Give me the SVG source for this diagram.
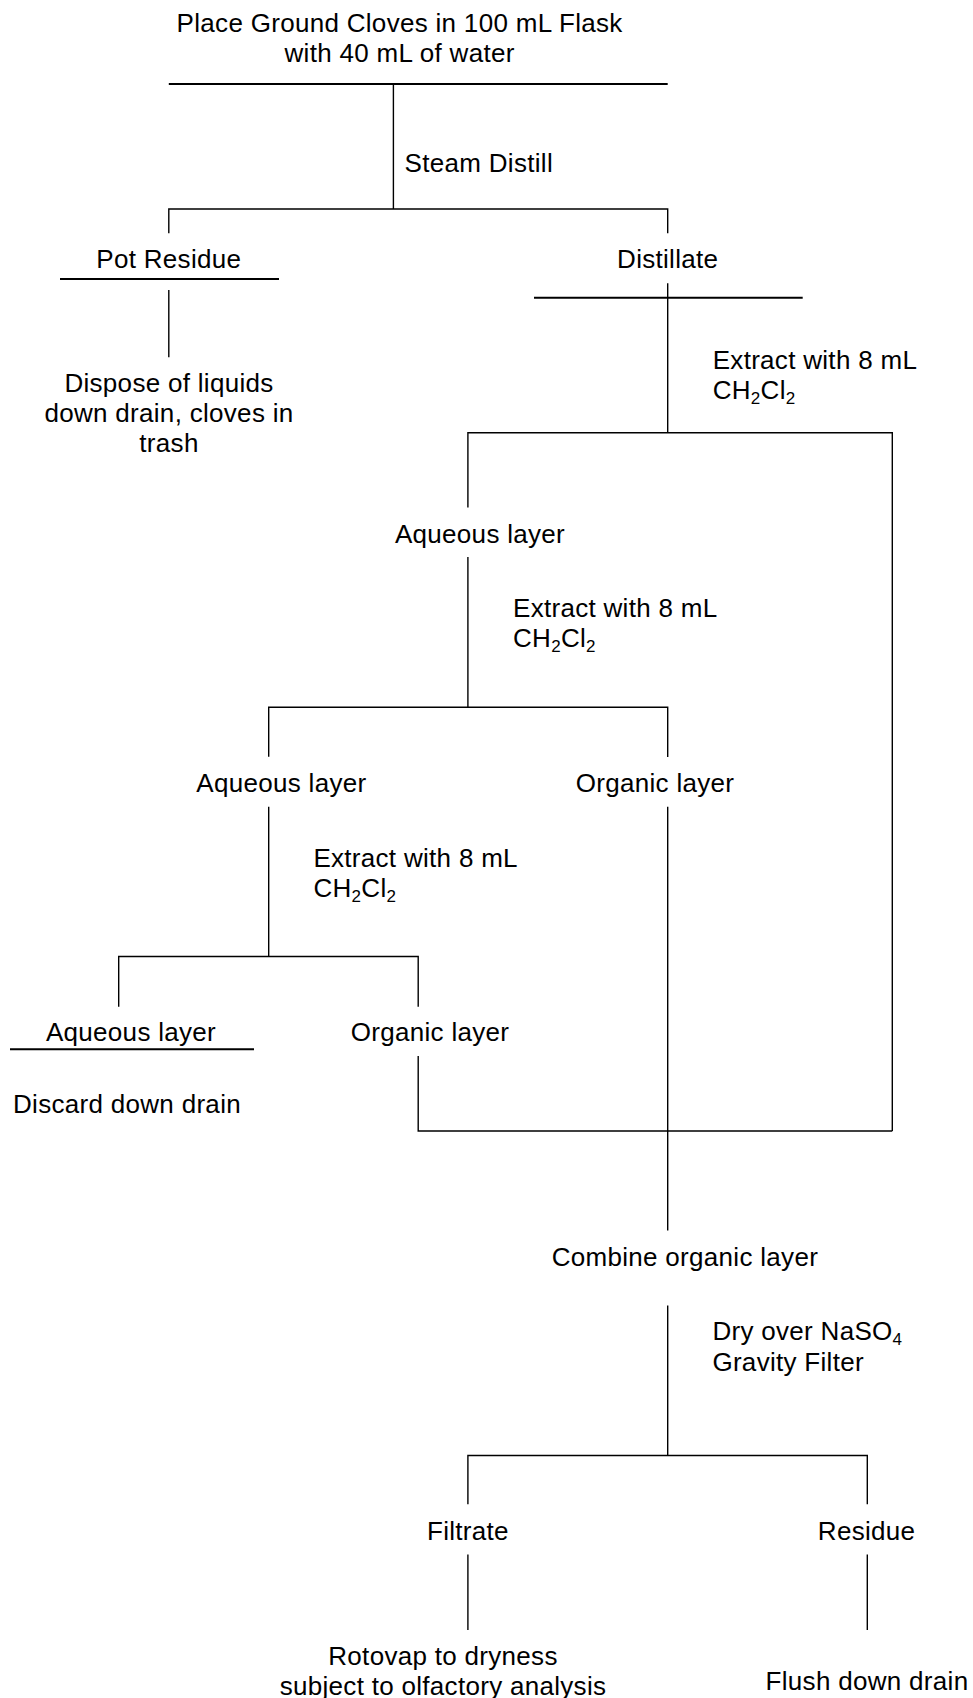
<svg xmlns="http://www.w3.org/2000/svg" width="973" height="1698" viewBox="0 0 973 1698">
<style>
.t{font-family:"Liberation Sans",Arial,sans-serif;font-size:26px;letter-spacing:0.3px;fill:#000}
.m{text-anchor:middle}
.ln{stroke:#000;stroke-width:1.4;fill:none}
.bar{stroke:#000;stroke-width:2;fill:none}
.sub{font-size:17px}
</style>
<rect width="973" height="1698" fill="#fff"/>
<g id="connectors">
<line class="ln" x1="393.4" y1="84" x2="393.4" y2="209"/>
<polyline class="ln" points="168.8,233.3 168.8,209 667.7,209 667.7,233.3"/>
<line class="ln" x1="168.8" y1="290" x2="168.8" y2="357.3"/>
<line class="ln" x1="667.7" y1="283.3" x2="667.7" y2="432.7"/>
<polyline class="ln" points="467.9,507.5 467.9,432.7 892.3,432.7 892.3,1131"/>
<line class="ln" x1="467.9" y1="557" x2="467.9" y2="707.3"/>
<polyline class="ln" points="268.7,756.7 268.7,707.3 667.7,707.3 667.7,757"/>
<line class="ln" x1="268.7" y1="806.7" x2="268.7" y2="956.5"/>
<polyline class="ln" points="118.7,1006.7 118.7,956.5 418.2,956.5 418.2,1006.7"/>
<polyline class="ln" points="418.2,1056 418.2,1131 892.3,1131"/>
<line class="ln" x1="667.7" y1="806.7" x2="667.7" y2="1230.4"/>
<line class="ln" x1="667.7" y1="1305.5" x2="667.7" y2="1455.5"/>
<polyline class="ln" points="467.9,1504.3 467.9,1455.5 867.3,1455.5 867.3,1504.3"/>
<line class="ln" x1="467.9" y1="1554.6" x2="467.9" y2="1630"/>
<line class="ln" x1="867.3" y1="1554.6" x2="867.3" y2="1630"/>
</g>
<g id="label-steam"><text class="t" x="404.6" y="172">Steam Distill</text></g>
<g id="label-extract1"><text class="t" x="712.7" y="368.5">Extract with 8 mL</text><text class="t" x="712.7" y="398.5">CH<tspan class="sub" dy="5">2</tspan><tspan dy="-5">Cl</tspan><tspan class="sub" dy="5">2</tspan></text></g>
<g id="label-extract2"><text class="t" x="513" y="617">Extract with 8 mL</text><text class="t" x="513" y="647">CH<tspan class="sub" dy="5">2</tspan><tspan dy="-5">Cl</tspan><tspan class="sub" dy="5">2</tspan></text></g>
<g id="label-extract3"><text class="t" x="313.4" y="866.7">Extract with 8 mL</text><text class="t" x="313.4" y="896.7">CH<tspan class="sub" dy="5">2</tspan><tspan dy="-5">Cl</tspan><tspan class="sub" dy="5">2</tspan></text></g>
<g id="label-dry"><text class="t" x="712.4" y="1340">Dry over NaSO<tspan class="sub" dy="5">4</tspan></text><text class="t" x="712.4" y="1370.5">Gravity Filter</text></g>
<g id="start"><text class="t m" x="399.6" y="31.7">Place Ground Cloves in 100 mL Flask</text><text class="t m" x="399.6" y="62.3">with 40 mL of water</text><line class="bar" x1="168.8" y1="84" x2="667.7" y2="84"/></g>
<g id="pot-residue"><text class="t m" x="168.8" y="268">Pot Residue</text><line class="bar" x1="60" y1="279" x2="279" y2="279"/></g>
<g id="distillate"><text class="t m" x="667.7" y="267.5">Distillate</text><line class="bar" x1="534" y1="297.7" x2="802.7" y2="297.7"/></g>
<g id="dispose"><text class="t m" x="169" y="392.3">Dispose of liquids</text><text class="t m" x="169" y="422.3">down drain, cloves in</text><text class="t m" x="169" y="452.3">trash</text></g>
<g id="aqueous-1"><text class="t m" x="480" y="542.8">Aqueous layer</text></g>
<g id="aqueous-2"><text class="t m" x="281.4" y="791.7">Aqueous layer</text></g>
<g id="organic-1"><text class="t m" x="655" y="791.7">Organic layer</text></g>
<g id="aqueous-3"><text class="t m" x="131" y="1040.5">Aqueous layer</text><line class="bar" x1="10" y1="1049.3" x2="254" y2="1049.3"/></g>
<g id="organic-2"><text class="t m" x="430" y="1040.5">Organic layer</text></g>
<g id="discard"><text class="t m" x="127" y="1113">Discard down drain</text></g>
<g id="combine"><text class="t" x="551.7" y="1265.7">Combine organic layer</text></g>
<g id="filtrate"><text class="t m" x="467.9" y="1540">Filtrate</text></g>
<g id="residue"><text class="t m" x="866.6" y="1540">Residue</text></g>
<g id="rotovap"><text class="t m" x="443" y="1665">Rotovap to dryness</text><text class="t m" x="443" y="1695">subject to olfactory analysis</text></g>
<g id="flush"><text class="t m" x="867" y="1690">Flush down drain</text></g>
</svg>
